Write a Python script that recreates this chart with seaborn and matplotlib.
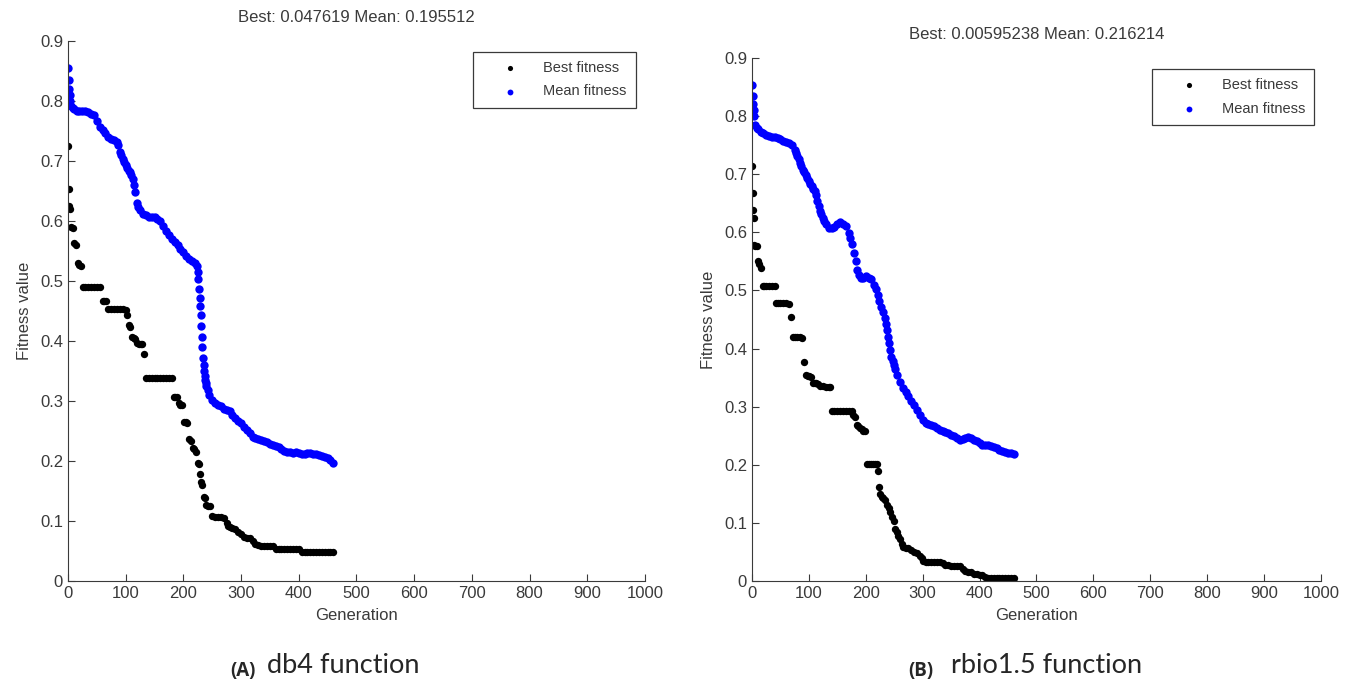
import numpy as np
import pandas as pd
import matplotlib
matplotlib.use('Agg')
import matplotlib.pyplot as plt
import seaborn as sns

# ---- data read off the two GA runs ----
# (A) db4 function
db4_best_gen = [0, 1, 2, 3, 5, 8, 11, 14, 17, 20,
                23, 26, 30, 35, 40, 45, 50, 55, 60, 63,
                66, 70, 75, 80, 85, 90, 95, 100, 102, 105,
                108, 111, 114, 117, 120, 123, 126, 129, 132, 135,
                140, 145, 150, 155, 160, 165, 170, 175, 180, 183,
                186, 189, 192, 195, 198, 201, 204, 207, 210, 213,
                216, 219, 222, 225, 227, 229, 231, 233, 235, 237,
                240, 243, 246, 250, 255, 260, 265, 270, 275, 278,
                281, 285, 290, 295, 300, 305, 310, 315, 320, 325,
                330, 335, 340, 345, 350, 355, 360, 365, 370, 375,
                380, 385, 390, 395, 400, 405, 410, 415, 420, 425,
                430, 435, 440, 445, 450, 455, 460]
db4_best = [0.725, 0.653, 0.625, 0.620, 0.590, 0.588, 0.563, 0.560, 0.530, 0.527,
            0.525, 0.490, 0.490, 0.490, 0.490, 0.490, 0.490, 0.490, 0.467, 0.466,
            0.466, 0.453, 0.453, 0.453, 0.453, 0.453, 0.453, 0.452, 0.444, 0.426,
            0.424, 0.407, 0.405, 0.403, 0.396, 0.395, 0.395, 0.395, 0.378, 0.338,
            0.338, 0.338, 0.338, 0.338, 0.338, 0.338, 0.338, 0.338, 0.338, 0.307,
            0.306, 0.306, 0.296, 0.293, 0.293, 0.265, 0.265, 0.264, 0.236, 0.234,
            0.222, 0.220, 0.215, 0.197, 0.195, 0.179, 0.165, 0.160, 0.140, 0.138,
            0.126, 0.125, 0.125, 0.108, 0.107, 0.107, 0.107, 0.105, 0.096, 0.092,
            0.090, 0.088, 0.086, 0.082, 0.078, 0.074, 0.072, 0.071, 0.066, 0.061,
            0.060, 0.058, 0.058, 0.058, 0.058, 0.058, 0.054, 0.054, 0.054, 0.054,
            0.054, 0.054, 0.054, 0.054, 0.054, 0.049, 0.048, 0.048, 0.048, 0.048,
            0.048, 0.048, 0.048, 0.048, 0.048, 0.048, 0.0476]

db4_mean_gen = [0, 1, 2, 3, 4, 6, 8, 10, 15, 20,
                25, 30, 35, 40, 45, 50, 55, 60, 65, 70,
                75, 80, 85, 87, 90, 92, 95, 97, 100, 102,
                105, 107, 110, 112, 115, 117, 120, 122, 125, 130,
                135, 140, 145, 150, 155, 160, 165, 170, 175, 180,
                185, 190, 195, 200, 205, 210, 215, 220, 223, 225,
                226, 227, 228, 229, 230, 231, 232, 233, 234, 235,
                236, 237, 238, 239, 240, 242, 245, 250, 255, 260,
                265, 270, 275, 280, 285, 290, 295, 300, 305, 310,
                315, 320, 325, 330, 335, 340, 345, 350, 355, 360,
                365, 370, 375, 380, 385, 390, 395, 400, 405, 410,
                415, 420, 425, 430, 435, 440, 445, 450, 455, 460]
db4_mean = [0.855, 0.835, 0.820, 0.810, 0.800, 0.792, 0.788, 0.787, 0.784, 0.784,
            0.783, 0.784, 0.781, 0.779, 0.776, 0.766, 0.757, 0.752, 0.746, 0.740,
            0.737, 0.735, 0.732, 0.727, 0.715, 0.710, 0.703, 0.698, 0.693, 0.689,
            0.684, 0.681, 0.676, 0.670, 0.660, 0.648, 0.630, 0.624, 0.618, 0.612,
            0.610, 0.607, 0.607, 0.607, 0.604, 0.600, 0.592, 0.584, 0.577, 0.570,
            0.565, 0.560, 0.553, 0.548, 0.542, 0.537, 0.533, 0.530, 0.525, 0.515,
            0.503, 0.487, 0.472, 0.458, 0.443, 0.425, 0.407, 0.390, 0.372, 0.360,
            0.350, 0.342, 0.335, 0.330, 0.325, 0.318, 0.310, 0.302, 0.297, 0.294,
            0.291, 0.287, 0.285, 0.283, 0.277, 0.271, 0.267, 0.263, 0.257, 0.252,
            0.246, 0.240, 0.238, 0.236, 0.235, 0.233, 0.231, 0.229, 0.227, 0.225,
            0.224, 0.220, 0.217, 0.215, 0.215, 0.214, 0.215, 0.213, 0.212, 0.212,
            0.213, 0.214, 0.212, 0.211, 0.210, 0.208, 0.207, 0.205, 0.202, 0.196]

# (B) rbio1.5 function
rbio_best_gen = [0, 1, 2, 3, 4, 6, 8, 10, 13, 16,
                 19, 22, 25, 30, 35, 40, 43, 46, 50, 55,
                 60, 65, 69, 72, 76, 80, 84, 88, 92, 95,
                 98, 101, 104, 107, 110, 113, 116, 120, 125, 130,
                 135, 138, 141, 145, 150, 155, 160, 165, 170, 175,
                 178, 181, 184, 187, 190, 193, 196, 199, 202, 205,
                 209, 213, 217, 220, 222, 223, 225, 228, 231, 234,
                 237, 240, 243, 246, 249, 252, 254, 257, 260, 263,
                 266, 270, 275, 280, 285, 290, 295, 298, 301, 305,
                 310, 315, 320, 325, 330, 335, 340, 345, 350, 355,
                 360, 365, 370, 375, 380, 385, 390, 395, 400, 405,
                 410, 415, 420, 425, 430, 435, 440, 445, 450, 455,
                 460]
rbio_best = [0.715, 0.668, 0.639, 0.625, 0.578, 0.577, 0.577, 0.550, 0.545, 0.538,
             0.508, 0.508, 0.508, 0.508, 0.508, 0.507, 0.479, 0.478, 0.478, 0.478,
             0.478, 0.477, 0.455, 0.420, 0.420, 0.420, 0.420, 0.419, 0.376, 0.355,
             0.353, 0.352, 0.351, 0.341, 0.340, 0.340, 0.339, 0.336, 0.335, 0.334,
             0.333, 0.333, 0.293, 0.293, 0.293, 0.293, 0.293, 0.293, 0.293, 0.292,
             0.286, 0.283, 0.268, 0.266, 0.263, 0.262, 0.258, 0.258, 0.202, 0.202,
             0.202, 0.202, 0.202, 0.201, 0.190, 0.162, 0.150, 0.145, 0.142, 0.140,
             0.130, 0.126, 0.118, 0.110, 0.104, 0.090, 0.084, 0.078, 0.072, 0.063,
             0.058, 0.057, 0.056, 0.053, 0.050, 0.049, 0.043, 0.040, 0.034, 0.032,
             0.032, 0.032, 0.032, 0.032, 0.032, 0.031, 0.028, 0.027, 0.026, 0.026,
             0.026, 0.025, 0.020, 0.017, 0.016, 0.015, 0.012, 0.012, 0.011, 0.011,
             0.007, 0.006, 0.006, 0.006, 0.006, 0.006, 0.006, 0.006, 0.006, 0.006,
             0.006]

rbio_mean_gen = [0, 1, 2, 3, 4, 6, 8, 10, 15, 20,
                 25, 30, 35, 40, 45, 50, 55, 60, 65, 70,
                 75, 77, 80, 82, 85, 87, 90, 92, 95, 97,
                 100, 102, 105, 107, 110, 112, 115, 117, 120, 122,
                 125, 127, 130, 135, 140, 145, 150, 155, 160, 165,
                 170, 173, 176, 179, 182, 185, 188, 191, 195, 200,
                 205, 210, 215, 218, 221, 224, 227, 230, 233, 235,
                 237, 239, 241, 243, 245, 247, 249, 251, 255, 260,
                 265, 270, 275, 280, 285, 290, 295, 300, 305, 310,
                 315, 320, 325, 330, 335, 340, 345, 350, 355, 360,
                 365, 370, 375, 380, 385, 390, 395, 400, 405, 410,
                 415, 420, 425, 430, 435, 440, 445, 450, 455, 460]
rbio_mean = [0.853, 0.834, 0.820, 0.810, 0.800, 0.785, 0.780, 0.777, 0.773, 0.771,
             0.768, 0.765, 0.764, 0.764, 0.762, 0.760, 0.757, 0.755, 0.753, 0.751,
             0.742, 0.737, 0.731, 0.726, 0.720, 0.715, 0.708, 0.703, 0.698, 0.694,
             0.688, 0.684, 0.679, 0.675, 0.671, 0.664, 0.654, 0.646, 0.636, 0.631,
             0.624, 0.620, 0.615, 0.608, 0.608, 0.610, 0.614, 0.617, 0.615, 0.611,
             0.599, 0.590, 0.580, 0.565, 0.550, 0.536, 0.527, 0.522, 0.522, 0.524,
             0.522, 0.519, 0.510, 0.503, 0.492, 0.482, 0.472, 0.463, 0.452, 0.443,
             0.432, 0.420, 0.409, 0.398, 0.386, 0.378, 0.371, 0.365, 0.355, 0.342,
             0.332, 0.325, 0.318, 0.310, 0.303, 0.295, 0.286, 0.277, 0.272, 0.270,
             0.269, 0.266, 0.263, 0.260, 0.258, 0.256, 0.254, 0.252, 0.250, 0.246,
             0.243, 0.244, 0.246, 0.247, 0.246, 0.243, 0.241, 0.237, 0.234, 0.234,
             0.234, 0.233, 0.231, 0.228, 0.225, 0.223, 0.222, 0.221, 0.221, 0.219]

titles = ['Best: 0.047619 Mean: 0.195512', 'Best: 0.00595238 Mean: 0.216214']
captions = ['db4 function', 'rbio1.5 function']
tags = ['(A)', '(B)']
x_ticks = np.arange(0, 1001, 100)
y_ticks = np.arange(0, 0.91, 0.1)

sns.set_style('white')
plt.rcParams['font.family'] = ['Liberation Sans', 'DejaVu Sans']
grey = '#3a3a3a'

runs = [(db4_best_gen, db4_best, db4_mean_gen, db4_mean),
        (rbio_best_gen, rbio_best, rbio_mean_gen, rbio_mean)]

fig = plt.figure(figsize=(13.51, 6.84), dpi=100)
axes = [fig.add_axes([0.0503, 0.1506, 0.4271, 0.7895]),
        fig.add_axes([0.5566, 0.1506, 0.4212, 0.7646])]
leg_anchor = [(0.984, 0.98), (0.988, 0.979)]

for i, ax in enumerate(axes):
    bg, b, mg, m = runs[i]
    best_df = pd.DataFrame({'Generation': bg, 'Fitness': b})
    mean_df = pd.DataFrame({'Generation': mg, 'Fitness': m})
    sns.scatterplot(data=best_df, x='Generation', y='Fitness', color='black',
                    s=28, linewidth=0, label='Best fitness', ax=ax)
    sns.scatterplot(data=mean_df, x='Generation', y='Fitness', color='#0000ff',
                    s=36, linewidth=0, label='Mean fitness', ax=ax)
    ax.set_xlim(0, 1000)
    ax.set_ylim(0, 0.9)
    ax.set_xticks(x_ticks)
    ax.set_yticks(y_ticks)
    ax.set_yticklabels(['0'] + ['%.1f' % v for v in y_ticks[1:]])
    ax.tick_params(direction='in', length=5, width=0.8, color=grey,
                   bottom=True, left=True, labelsize=12, labelcolor=grey, pad=3.5)
    for side in ['top', 'right']:
        ax.spines[side].set_visible(False)
    for side in ['left', 'bottom']:
        ax.spines[side].set_color(grey)
        ax.spines[side].set_linewidth(0.8)
    ax.set_xlabel('Generation', fontsize=12, color=grey, labelpad=5)
    ax.set_ylabel('Fitness value', fontsize=12, color=grey, labelpad=6)
    ax.set_title(titles[i], fontsize=12, color=grey, pad=14)

    handles, labels = ax.get_legend_handles_labels()
    leg = ax.legend(handles, labels, loc='upper right', bbox_to_anchor=leg_anchor[i],
                    fontsize=10.5, borderpad=0.63, labelspacing=0.65,
                    handlelength=3.8, handletextpad=0.35, borderaxespad=0,
                    fancybox=False, framealpha=1, markerscale=0.7)
    leg.get_frame().set_edgecolor(grey)
    leg.get_frame().set_linewidth(0.9)
    for t in leg.get_texts():
        t.set_color(grey)

# panel captions
fig.text(0.1705, 0.011, tags[0], fontsize=13.5, fontweight='bold',
         family='Open Sans', va='baseline')
fig.text(0.198, 0.016, captions[0], fontsize=19.5, family='Lato', va='baseline')
fig.text(0.672, 0.011, tags[1], fontsize=13.5, fontweight='bold',
         family='Open Sans', va='baseline')
fig.text(0.704, 0.016, captions[1], fontsize=19.5, family='Lato', va='baseline')

fig.savefig('out.png', dpi=100)
